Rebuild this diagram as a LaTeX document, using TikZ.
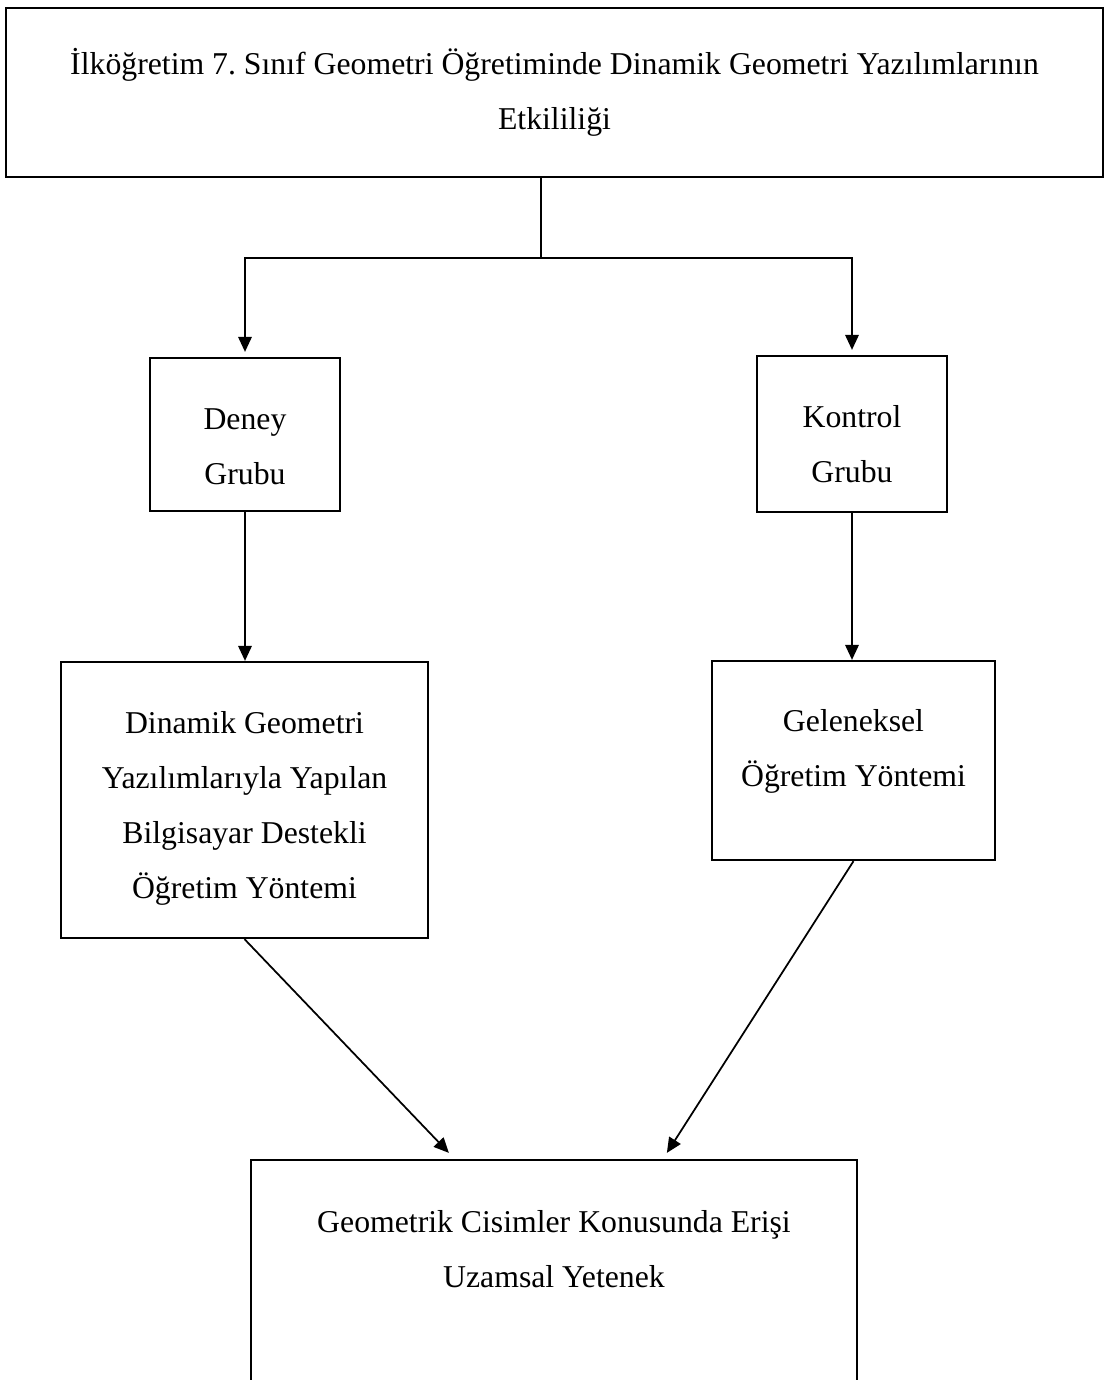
\documentclass[tikz,border=0pt]{standalone}
\usepackage{fontspec}
\setmainfont{Liberation Serif}
\usetikzlibrary{arrows.meta,positioning}
\frenchspacing
\newdimen\px \px=0.4pt
% width, height, first baseline, text (in px)
\newcommand{\boxtext}[4]{\parbox[c][#2\px][t]{#1\px}{\centering\rule{0pt}{#3\px}#4}}
\tikzset{
  box/.style={draw, line width=0.9pt, inner sep=0pt, font=\fontsize{12.7}{22}\selectfont},
  arr/.style={-{Triangle[length=6pt,width=5.4pt]}, line width=0.7pt},
  link/.style={line width=0.7pt}}
\begin{document}
\begin{tikzpicture}[x=0.4pt, y=-0.4pt]
  \useasboundingbox (0,0) rectangle (1105,1380);
  \node[box] (title) at (554.5,92.5) {\boxtext{1097}{169}{66}{İlköğretim 7. Sınıf Geometri Öğretiminde Dinamik Geometri Yazılımlarının\\Etkililiği}};
  \node[box] (deney) at (245,434.5) {\boxtext{190}{153}{71}{Deney\\Grubu}};
  \node[box] (kontrol) at (852,434) {\boxtext{190}{156}{71}{Kontrol\\Grubu}};
  \node[box] (dgy) at (244.5,800) {\boxtext{367}{276}{71}{Dinamik Geometri\\Yazılımlarıyla Yapılan\\Bilgisayar Destekli\\Öğretim Yöntemi}};
  \node[box] (gel) at (853.5,760.5) {\boxtext{283}{199}{70}{Geleneksel\\Öğretim Yöntemi}};
  \node[box] (result) at (554,1290) {\boxtext{606}{260}{72}{Geometrik Cisimler Konusunda Erişi\\Uzamsal Yetenek}};
  \coordinate (split) at (541,258);
  \draw[link] (title.south -| split) -- (split);
  \draw[arr, shorten >=2pt] (split) -| (deney.north);
  \draw[arr, shorten >=2pt] (split) -| (kontrol.north);
  \draw[arr] (deney.south) -- (deney.south |- dgy.north);
  \draw[arr] (kontrol.south) -- (kontrol.south |- gel.north);
  \draw[arr] (dgy.south) -- ([xshift=79.6pt, yshift=2.4pt]result.north west);
  \draw[arr] (gel.south) -- ([xshift=166.8pt, yshift=2.4pt]result.north west);
\end{tikzpicture}
\end{document}
